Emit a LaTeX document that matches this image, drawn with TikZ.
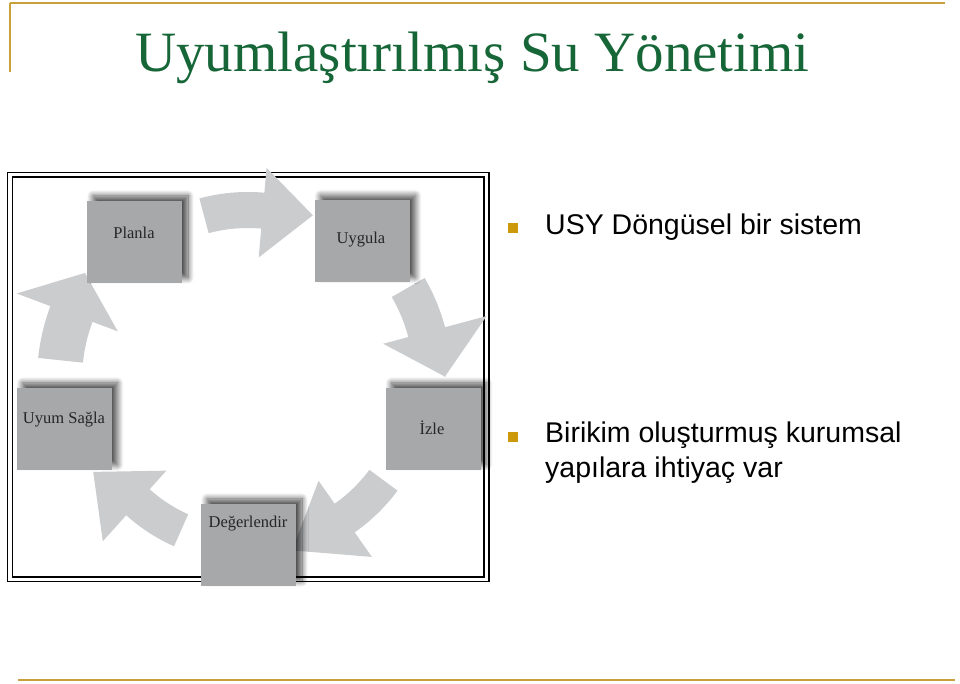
\documentclass[tikz,border=0pt]{standalone}
\usepackage{fontspec}
\setmainfont{Liberation Serif}
\newfontfamily\sansf{Liberation Sans}
\usetikzlibrary{shadows.blur}
\definecolor{gold}{RGB}{200,160,60}
\definecolor{bulletgold}{RGB}{204,153,10}
\definecolor{titlegreen}{RGB}{22,102,56}
\definecolor{boxgray}{RGB}{167,168,170}
\definecolor{arrowgray}{RGB}{203,204,206}
\tikzset{
  x=1pt, y=1pt,
  stagebox/.style={fill=boxgray, draw=none, minimum width=95pt, minimum height=82pt, inner sep=0pt,
    blur shadow={shadow xshift=6pt, shadow yshift=5pt, shadow blur radius=6pt, shadow blur steps=12, shadow opacity=70}},
  stagetext/.style={font=\fontsize{16.5}{19}\selectfont, text=black!85, inner sep=0pt},
  goldline/.style={draw=gold, line width=2.6pt},
  framebox/.style={draw=black, line width=1.8pt},
  bulletsq/.style={fill=bulletgold, minimum size=10pt, inner sep=0pt},
  bullettext/.style={font=\sansf\fontsize{28.5}{35}\selectfont, align=left, inner sep=0pt, anchor=base west},
  cyclearrow/.style={fill=arrowgray, draw=none}
}
\newcommand{\cyclearr}[9]{%
  % #1 start angle, #2 head base angle, #3 tip angle, #4 inner r, #5 outer r, #6 head inner r, #7 head outer r, #8 tip r, #9 unused
  \fill[cyclearrow] (#1:#5pt) arc[start angle=#1, end angle=#2, radius=#5pt] -- (#2:#7pt) -- (#3:#8pt) -- (#2:#6pt) -- (#2:#4pt) arc[start angle=#2, end angle=#1, radius=#4pt] -- cycle;}
\begin{document}
\begin{tikzpicture}
\useasboundingbox (0,0) rectangle (960,683);
% decorative gold lines
\draw[goldline] (10,680) -- (945,680);
\draw[draw=gold, line width=2pt] (10,680) -- (10,611);
\draw[goldline] (18,3) -- (955,3);
% title
\node[anchor=base west, inner sep=0pt, text=titlegreen, font=\fontsize{57}{60}\selectfont] (title) at (135,611) {Uyumlaştırılmış Su Yönetimi};
% frame
\draw[framebox] (7.5,101.5) rectangle (489,510.5);
\draw[framebox] (12.5,106) rectangle (484,506);
% arrows
\begin{scope}[shift={(248,303)}]
\cyclearr{105}{85}{68.5}{152}{188}{123}{213}{177}{}
\cyclearr{30}{15}{1}{166}{204}{140}{247}{197}{}
\cyclearr{-36.5}{-55}{-75.5}{151}{186}{123}{216}{176}{}
\cyclearr{246}{228}{210.7}{147}{182}{122}{217}{180}{}
\cyclearr{174}{159.5}{146.7}{166}{211}{139}{247}{195}{}
\end{scope}
% stage boxes
\node[stagebox] (planla) at (134.5,441) {};
\node[stagebox] (uygula) at (362,441.5) {};
\node[stagebox] (izle) at (433,254) {};
\node[stagebox] (deger) at (248.5,138) {};
\node[stagebox] (uyum) at (64,254) {};
\node[stagetext] (planlat) at (134,450) {Planla};
\node[stagetext] (uygulat) at (361,443) {Uygula};
\node[stagetext] (izlet) at (432,255) {İzle};
\node[stagetext] (degert) at (248,159) {Değerlendir};
\node[stagetext] (uyumt) at (64,263) {Uyum Sağla};
% bullets
\node[bulletsq] (b1) at (513,455) {};
\node[bullettext] (t1) at (545,448) {USY Döngüsel bir sistem};
\node[bulletsq] (b2) at (513,246) {};
\node[bullettext] (t2) at (545,206) {Birikim oluşturmuş kurumsal\\yapılara ihtiyaç var};
\end{tikzpicture}
\end{document}
